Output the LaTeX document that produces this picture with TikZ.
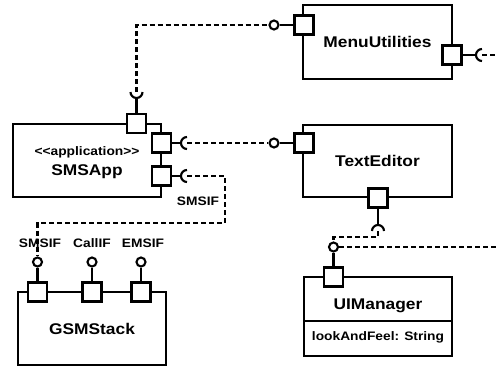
\documentclass[tikz,border=0pt]{standalone}
\usepackage{fontspec}
\setmainfont[FakeStretch=1.12]{Liberation Sans}
\begin{document}
\begin{tikzpicture}[x=1pt,y=-1pt,line width=2.1pt,
  box/.style={draw,fill=white,inner sep=0pt},
  port/.style={draw,fill=white,minimum size=19pt,inner sep=0pt},
  lolli/.style={draw,fill=white,circle,minimum size=9pt,inner sep=0pt},
  conn/.style={dash pattern=on 5pt off 3pt},
  big/.style={font=\bfseries\fontsize{15.5}{18}\selectfont},
  small/.style={font=\bfseries\fontsize{12.3}{14}\selectfont}]
\useasboundingbox (0,0) rectangle (496,367);
% components
\node[box,minimum width=148pt,minimum height=73pt] (smsapp) at (87,160.5) {};
\node[small] (stereo) at (87,152) {{<}{<}application{>}{>}};
\node[big] (smsname) at (87,172) {SMSApp};
\node[box,big,minimum width=149pt,minimum height=74pt] (menu) at (377.5,42) {MenuUtilities};
\node[box,big,minimum width=149pt,minimum height=72pt] (texted) at (377.5,161) {TextEditor};
\node[box,big,minimum width=148pt,minimum height=73pt] (gsm) at (92,328.5) {GSMStack};
\node[box,minimum width=148pt,minimum height=79pt] (ui) at (378,316.5) {};
\node[big] (uiname) at (378,306) {UIManager};
\node[small] (uiattr) at (378,337) {lookAndFeel: String};
\coordinate (uidiv) at (378,321);
\draw (ui.west |- uidiv) -- (ui.east |- uidiv);
% ports
\node[port] (pA) at (136.5,123.5) {};
\node[port] (pB) at (161.5,143) {};
\node[port] (pC) at (161.5,176) {};
\node[port] (pD) at (304,25) {};
\node[port] (pE) at (452,55) {};
\node[port] (pF) at (304,143) {};
\node[port] (pG) at (378,198) {};
\node[port] (pH) at (333.5,277) {};
\node[port] (pI) at (37.5,292) {};
\node[port] (pJ) at (92,292) {};
\node[port] (pK) at (141,292) {};
% provided interfaces (lollipops)
\node[lolli] (lD) at (274,25) {};
\node[lolli] (lF) at (274,143) {};
\node[lolli] (lH) at (333.5,247) {};
\node[lolli] (lI) at (37.5,262) {};
\node[lolli] (lJ) at (92,262) {};
\node[lolli] (lK) at (141,262) {};
\draw (lD.east) -- (pD.west);
\draw (lF.east) -- (pF.west);
\draw (lH.south) -- (pH.north);
\draw (lI.south) -- (pI.north);
\draw (lJ.south) -- (pJ.north);
\draw (lK.south) -- (pK.north);
% required interfaces (sockets)
\coordinate (sA) at (136.5,92);
\coordinate (sB) at (187,143);
\coordinate (sC) at (187,176);
\coordinate (sE) at (482,55);
\coordinate (sG) at (378,231);
\draw (pA.north) -- ([yshift=-6pt]sA);
\draw ([xshift=-6pt]sA) arc[start angle=180,end angle=360,radius=6pt];
\draw (pB.east) -- ([xshift=-6pt]sB);
\draw ([yshift=6pt]sB) arc[start angle=90,end angle=270,radius=6pt];
\draw (pC.east) -- ([xshift=-6pt]sC);
\draw ([yshift=6pt]sC) arc[start angle=90,end angle=270,radius=6pt];
\draw (pE.east) -- ([xshift=-6pt]sE);
\draw ([yshift=6pt]sE) arc[start angle=90,end angle=270,radius=6pt];
\draw (pG.south) -- ([yshift=6pt]sG);
\draw ([xshift=6pt]sG) arc[start angle=0,end angle=180,radius=6pt];
% labels
\node[small] (lbI) at (40,243) {SMSIF};
\node[small] (lbJ) at (92,243) {CallIF};
\node[small] (lbK) at (143,243) {EMSIF};
\node[small] (lbC) at (198,201) {SMSIF};
% dependency connectors
\coordinate (b1) at (225,223);
\coordinate (b2) at (378,237);
\coordinate (eE) at (496,55);
\coordinate (eH) at (496,247);
\draw[conn] (sA) |- (lD.west);
\draw[conn] (sB) -- (lF.west);
\draw[conn] (sC) -| (b1) -| (lI.north);
\draw[conn] (sE) -- (eE);
\draw[conn] (sG) -- (b2) -| (lH.north);
\draw[conn] (lH.east) -- (eH);
\end{tikzpicture}
\end{document}
